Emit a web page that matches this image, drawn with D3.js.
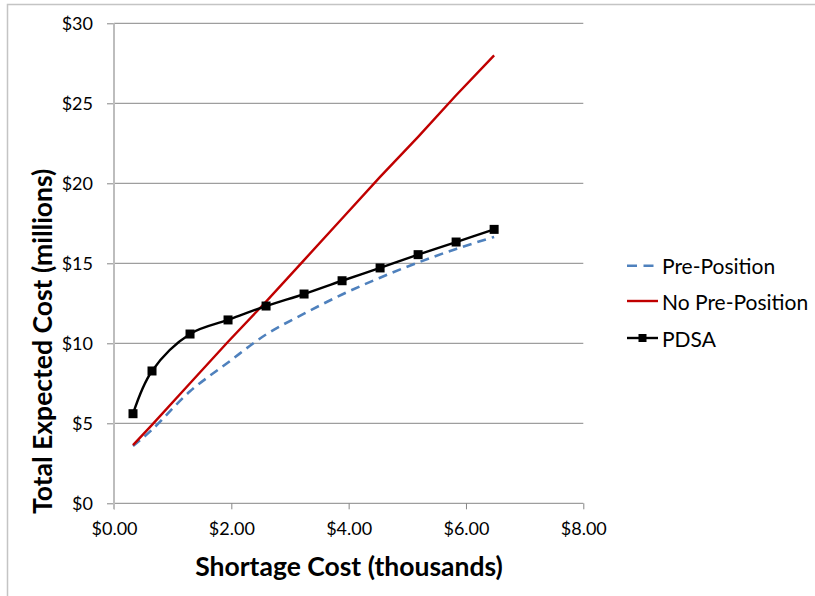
<!DOCTYPE html>
<html>
<head>
<meta charset="utf-8">
<script src="https://cdn.jsdelivr.net/npm/d3@7"></script>
<style>
  html, body { margin: 0; padding: 0; background: #fff; }
  svg { display: block; }
  text { font-family: Lato, "Open Sans", sans-serif; fill: #000; }
</style>
</head>
<body>
<script>
// Shortage cost (thousands of $) at which each scenario was evaluated
const shortageCost = [0.324, 0.648, 1.296, 1.944, 2.592, 3.24, 3.888, 4.536, 5.184, 5.832, 6.48];

// Total expected cost (millions of $) per policy
const prePosition   = [3.58, 4.6, 7.0, 8.8, 10.55, 11.85, 13.05, 14.1, 15.05, 15.9, 16.65];
const noPrePosition = [3.64, 4.9, 7.5, 10.1, 12.6, 15.2, 17.8, 20.4, 22.9, 25.5, 28.0];
const pdsa          = [5.6, 8.27, 10.58, 11.46, 12.33, 13.08, 13.91, 14.71, 15.54, 16.33, 17.12];

const seriesNames = ["Pre-Position", "No Pre-Position", "PDSA"];
const xTicks = [0, 2, 4, 6, 8];
const yTicks = [0, 5, 10, 15, 20, 25, 30];

const W = 815, H = 596;
const svg = d3.select("body").append("svg").attr("width", W).attr("height", H);

// chart frame
svg.append("path")
  .attr("d", `M7.5,${H} V4.5 H${W}`)
  .attr("fill", "none").attr("stroke", "#c4c4c4").attr("stroke-width", 1.5);

const plot = { left: 114, right: 583.3, top: 23.3, bottom: 503.3 };
const x = d3.scaleLinear().domain([0, 8]).range([plot.left, plot.right]);
const y = d3.scaleLinear().domain([0, 30]).range([plot.bottom, plot.top]);

// horizontal gridlines + y ticks
const yAxis = svg.append("g").attr("transform", `translate(${plot.left},0)`)
  .call(d3.axisLeft(y).tickValues(yTicks).tickSize(7).tickFormat(d => "$" + d));
yAxis.select(".domain").remove();
yAxis.selectAll(".tick line").attr("stroke", "#868686");
yAxis.selectAll(".tick text").attr("x", -21).style("font-size", "18px")
  .style("font-family", "Lato, sans-serif").attr("fill", "#000");
svg.append("g").selectAll("line").data(yTicks.filter(d => d > 0)).join("line")
  .attr("x1", plot.left).attr("x2", plot.right)
  .attr("y1", d => y(d)).attr("y2", d => y(d))
  .attr("stroke", "#868686").attr("stroke-width", 1);

// x axis
const xAxis = svg.append("g").attr("transform", `translate(0,${plot.bottom})`)
  .call(d3.axisBottom(x).tickValues(xTicks).tickSize(6).tickFormat(d => "$" + d3.format(".2f")(d)));
xAxis.select(".domain").attr("stroke", "#868686").attr("d", `M${plot.left},0H${plot.right}`);
xAxis.selectAll(".tick line").attr("stroke", "#868686");
xAxis.selectAll(".tick text").attr("y", 19).style("font-size", "18px")
  .style("font-family", "Lato, sans-serif").attr("fill", "#000");

// y axis line
svg.append("line")
  .attr("x1", plot.left).attr("x2", plot.left)
  .attr("y1", plot.top).attr("y2", plot.bottom + 6)
  .attr("stroke", "#bdbdbd").attr("stroke-width", 2);

// axis titles
svg.append("text")
  .attr("transform", `translate(42,${(plot.top + plot.bottom) / 2 + 78}) rotate(-90)`)
  .attr("text-anchor", "middle").attr("dominant-baseline", "central")
  .style("font-size", "26.5px").style("font-weight", "bold")
  .text("Total Expected Cost (millions)");
svg.append("text")
  .attr("x", 349).attr("y", 566)
  .attr("text-anchor", "middle").attr("dominant-baseline", "central")
  .style("font-size", "26.5px").style("font-weight", "bold")
  .text("Shortage Cost (thousands)");

const pts = vals => shortageCost.map((c, i) => [c, vals[i]]);
const smooth = d3.line().x(d => x(d[0])).y(d => y(d[1])).curve(d3.curveCatmullRom.alpha(0.5));
const straight = d3.line().x(d => x(d[0])).y(d => y(d[1]));

// Pre-Position (dashed blue)
svg.append("path").attr("d", smooth(pts(prePosition)))
  .attr("fill", "none").attr("stroke", "#4f81bd").attr("stroke-width", 2.6)
  .attr("stroke-dasharray", "9,6");

// No Pre-Position (red)
svg.append("path").attr("d", straight(pts(noPrePosition)))
  .attr("fill", "none").attr("stroke", "#c00000").attr("stroke-width", 2.4);

// PDSA (black with square markers)
svg.append("path").attr("d", smooth(pts(pdsa)))
  .attr("fill", "none").attr("stroke", "#000").attr("stroke-width", 2.4);
const ms = 9;
svg.append("g").selectAll("rect").data(pts(pdsa)).join("rect")
  .attr("x", d => x(d[0]) - ms / 2).attr("y", d => y(d[1]) - ms / 2)
  .attr("width", ms).attr("height", ms).attr("fill", "#000");

// legend
const lg = svg.append("g");
const legY = [265.7, 301, 338];
const lx0 = 627, lx1 = 658;
lg.append("line").attr("x1", lx0).attr("x2", 654).attr("y1", legY[0]).attr("y2", legY[0])
  .attr("stroke", "#4f81bd").attr("stroke-width", 2.6).attr("stroke-dasharray", "10,6.5");
lg.append("line").attr("x1", lx0).attr("x2", lx1).attr("y1", legY[1]).attr("y2", legY[1])
  .attr("stroke", "#c00000").attr("stroke-width", 2.4);
lg.append("line").attr("x1", lx0).attr("x2", lx1).attr("y1", legY[2]).attr("y2", legY[2])
  .attr("stroke", "#000").attr("stroke-width", 2.4);
lg.append("rect").attr("x", (lx0 + lx1) / 2 - 4).attr("y", legY[2] - 4)
  .attr("width", 8).attr("height", 8).attr("fill", "#000");
lg.selectAll("text").data(seriesNames).join("text")
  .attr("x", 662).attr("y", (d, i) => legY[i])
  .attr("dominant-baseline", "central")
  .style("font-size", "21px")
  .text(d => d);
</script>
</body>
</html>
